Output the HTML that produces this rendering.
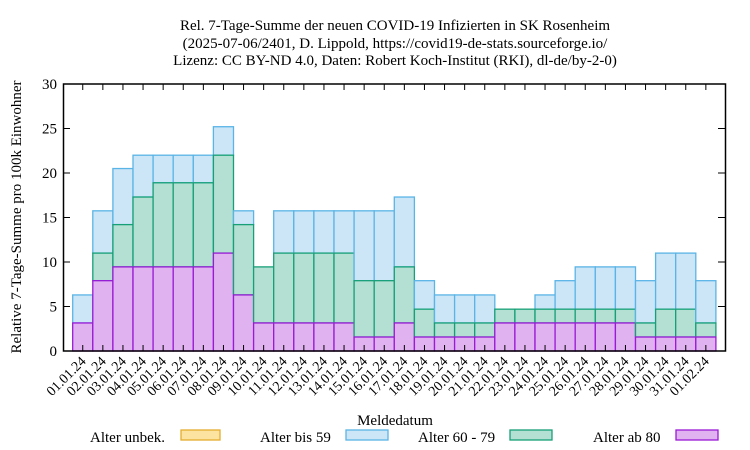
<!DOCTYPE html>
<html><head><meta charset="utf-8"><style>body{margin:0;background:#fff}svg{display:block}text{font-family:"Liberation Serif",serif;fill:#000}</style></head>
<body>
<svg id="s" width="750" height="450" viewBox="0 0 750 450" xmlns="http://www.w3.org/2000/svg">
<text x="395" y="30" font-size="15" text-anchor="middle">Rel. 7-Tage-Summe der neuen COVID-19 Infizierten in SK Rosenheim</text>
<text x="395" y="48" font-size="15" text-anchor="middle">(2025-07-06/2401, D. Lippold, https://covid19-de-stats.sourceforge.io/</text>
<text x="395" y="65" font-size="15" text-anchor="middle">Lizenz: CC BY-ND 4.0, Daten: Robert Koch-Institut (RKI), dl-de/by-2-0)</text>
<text transform="translate(21,217) rotate(-90)" font-size="15" text-anchor="middle">Relative 7-Tage-Summe pro 100k Einwohner</text>
<g font-size="15" text-anchor="end">
<text x="57" y="356">0</text><text x="57" y="311.5">5</text><text x="57" y="267">10</text><text x="57" y="222.5">15</text><text x="57" y="178">20</text><text x="57" y="133.5">25</text><text x="57" y="89">30</text>
</g>
<g id="bars"></g>
<g id="ticks" stroke="#000" stroke-width="1"></g>
<rect x="63.5" y="84" width="662" height="267" fill="none" stroke="#000" stroke-width="1.5"/>
<g font-size="14" text-anchor="end">
<text transform="translate(86.7,362) rotate(-45)">01.01.24</text>
<text transform="translate(106.8,362) rotate(-45)">02.01.24</text>
<text transform="translate(126.9,362) rotate(-45)">03.01.24</text>
<text transform="translate(147.0,362) rotate(-45)">04.01.24</text>
<text transform="translate(167.1,362) rotate(-45)">05.01.24</text>
<text transform="translate(187.2,362) rotate(-45)">06.01.24</text>
<text transform="translate(207.3,362) rotate(-45)">07.01.24</text>
<text transform="translate(227.4,362) rotate(-45)">08.01.24</text>
<text transform="translate(247.5,362) rotate(-45)">09.01.24</text>
<text transform="translate(267.6,362) rotate(-45)">10.01.24</text>
<text transform="translate(287.7,362) rotate(-45)">11.01.24</text>
<text transform="translate(307.8,362) rotate(-45)">12.01.24</text>
<text transform="translate(327.9,362) rotate(-45)">13.01.24</text>
<text transform="translate(348.0,362) rotate(-45)">14.01.24</text>
<text transform="translate(368.1,362) rotate(-45)">15.01.24</text>
<text transform="translate(388.2,362) rotate(-45)">16.01.24</text>
<text transform="translate(408.3,362) rotate(-45)">17.01.24</text>
<text transform="translate(428.4,362) rotate(-45)">18.01.24</text>
<text transform="translate(448.5,362) rotate(-45)">19.01.24</text>
<text transform="translate(468.6,362) rotate(-45)">20.01.24</text>
<text transform="translate(488.7,362) rotate(-45)">21.01.24</text>
<text transform="translate(508.8,362) rotate(-45)">22.01.24</text>
<text transform="translate(528.9,362) rotate(-45)">23.01.24</text>
<text transform="translate(549.0,362) rotate(-45)">24.01.24</text>
<text transform="translate(569.1,362) rotate(-45)">25.01.24</text>
<text transform="translate(589.2,362) rotate(-45)">26.01.24</text>
<text transform="translate(609.3,362) rotate(-45)">27.01.24</text>
<text transform="translate(629.4,362) rotate(-45)">28.01.24</text>
<text transform="translate(649.5,362) rotate(-45)">29.01.24</text>
<text transform="translate(669.6,362) rotate(-45)">30.01.24</text>
<text transform="translate(689.7,362) rotate(-45)">31.01.24</text>
<text transform="translate(709.8,362) rotate(-45)">01.02.24</text>
</g>
<text x="395" y="425" font-size="15" text-anchor="middle">Meldedatum</text>
<g font-size="15">
<text x="90" y="442">Alter unbek.</text><rect x="181" y="430" width="39" height="10" fill="#fce4a0" stroke="#e5ac2e" stroke-width="1.3"/>
<text x="260" y="442">Alter bis 59</text><rect x="346" y="430" width="42" height="10" fill="#cce6f8" stroke="#5ab4e6" stroke-width="1.3"/>
<text x="418" y="442">Alter 60 - 79</text><rect x="510" y="430" width="42" height="10" fill="#b3e0d2" stroke="#17a077" stroke-width="1.3"/>
<text x="593" y="442">Alter ab 80</text><rect x="676" y="430" width="42" height="10" fill="#e0b3f0" stroke="#9a1ad6" stroke-width="1.3"/>
</g>
</svg>
<script>
(function(){
var D=[[3.15,3.15,6.3],[7.9,11,15.75],[9.45,14.2,20.5],[9.45,17.3,22],[9.45,18.9,22],[9.45,18.9,22],[9.45,18.9,22],[11,22,25.2],[6.3,14.2,15.75],[3.15,9.45,9.45],[3.15,11,15.75],[3.15,11,15.75],[3.15,11,15.75],[3.15,11,15.75],[1.57,7.9,15.75],[1.57,7.9,15.75],[3.15,9.45,17.3],[1.57,4.7,7.9],[1.57,3.15,6.3],[1.57,3.15,6.3],[1.57,3.15,6.3],[3.15,4.7,4.7],[3.15,4.7,4.7],[3.15,4.7,6.3],[3.15,4.7,7.9],[3.15,4.7,9.45],[3.15,4.7,9.45],[3.15,4.7,9.45],[1.57,3.15,7.9],[1.57,4.7,11],[1.57,4.7,11],[1.57,3.15,7.9]];
var b=document.getElementById('bars'),tk=document.getElementById('ticks');
var y=function(v){return 351-v*8.9;},w=20.1;
var col=[['#e0b3f0','#9a1ad6'],['#b3e0d2','#17a077'],['#cce6f8','#5ab4e6']];
var h='';
D.forEach(function(d,i){var x=72.7+w*i;
 for(var k=2;k>=0;k--){var top=d[k];var bot=k>0?d[k-1]:0;if(top-bot<0.01)continue;
 h+='<rect x="'+x+'" y="'+y(top)+'" width="'+w+'" height="'+(y(bot)-y(top))+'" fill="'+col[k][0]+'" stroke="'+col[k][1]+'" stroke-width="1.3"/>';}
});
b.innerHTML=h;
var t='';
for(var i=0;i<32;i++){var cx=72.7+w*(i+0.5);t+='<line x1="'+cx+'" y1="84" x2="'+cx+'" y2="90"/><line x1="'+cx+'" y1="351" x2="'+cx+'" y2="345"/>';}
for(var j=1;j<6;j++){var yy=351-j*44.5;t+='<line x1="63" y1="'+yy+'" x2="70" y2="'+yy+'"/><line x1="725" y1="'+yy+'" x2="718" y2="'+yy+'"/>';}
tk.innerHTML=t;
})();
</script>
</body></html>
